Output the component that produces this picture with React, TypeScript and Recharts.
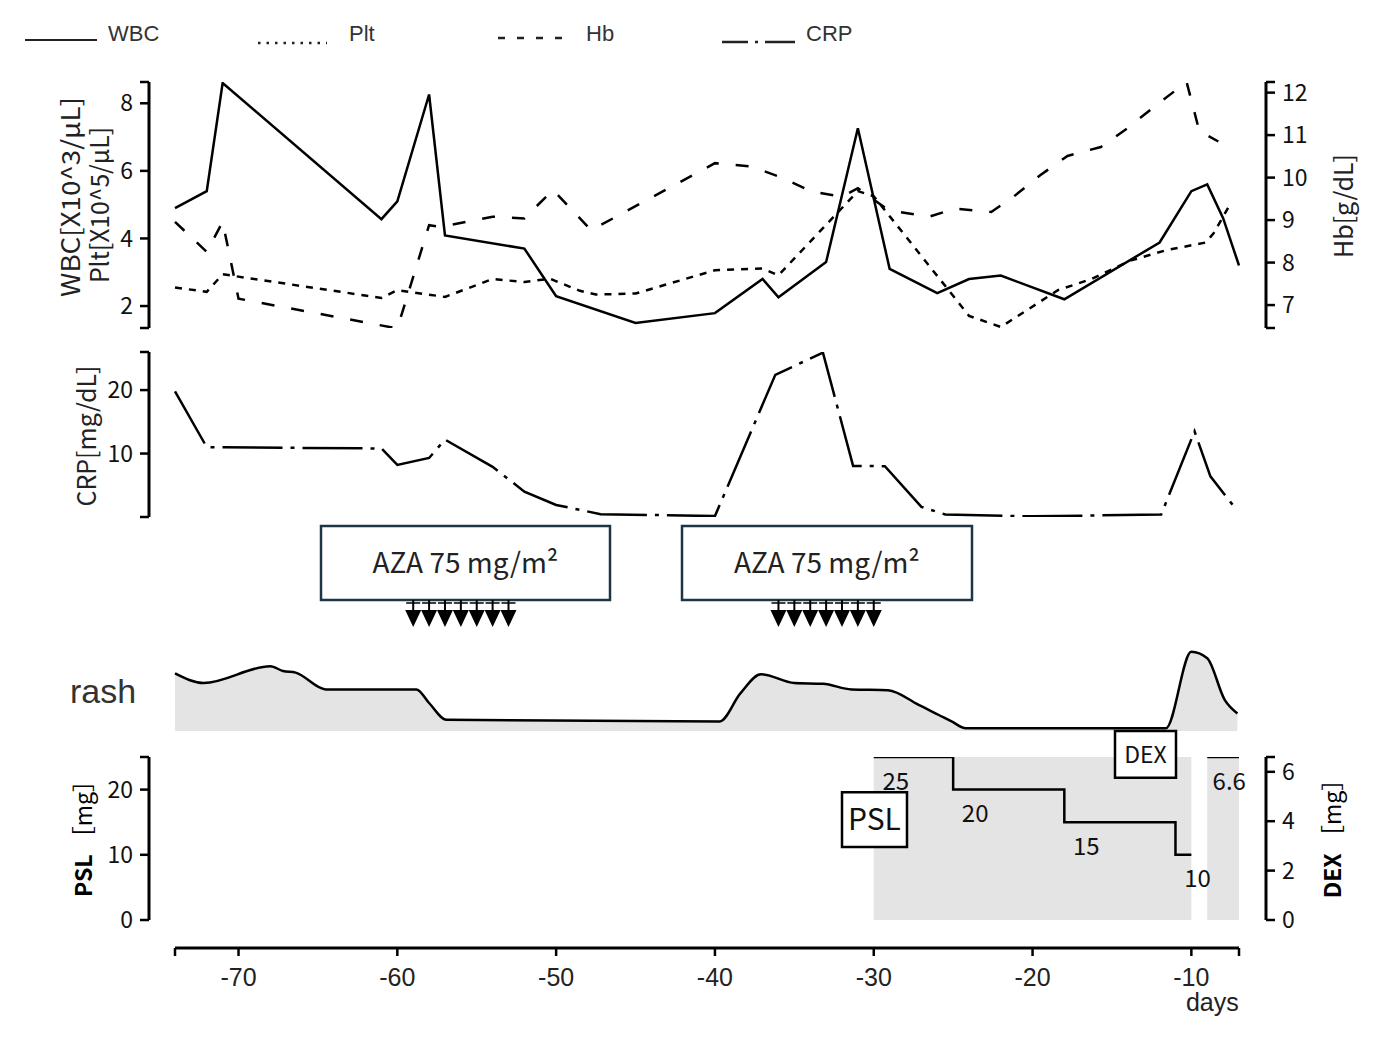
import React from 'react';
import {
  LineChart, Line, XAxis, YAxis, AreaChart, Area, ComposedChart, Scatter,
  ReferenceArea, Label, LabelList,
} from 'recharts';

const FONT_JP = '"Noto Sans CJK JP", "Noto Sans", sans-serif';
const FONT_AR = '"Liberation Sans", Arial, sans-serif';

// ---------------- data (days before reference day) ----------------
const wbcDays = [-74, -72, -71, -61, -60, -58, -57, -52, -50, -45, -40, -37, -36, -33, -31, -29, -26, -24, -22, -18, -12, -10, -9, -8, -7];
const wbcValues = [4.9, 5.4, 8.6, 4.57, 5.1, 8.26, 4.09, 3.7, 2.29, 1.5, 1.79, 2.8, 2.26, 3.3, 7.26, 3.1, 2.38, 2.8, 2.9, 2.2, 3.88, 5.4, 5.6, 4.6, 3.2];

const pltDays = [-74, -72, -71, -61, -60, -57, -54, -52, -50.4, -48.5, -47.5, -45, -40, -37, -36, -31, -30, -24, -22, -18.4, -16.3, -13.8, -11.6, -9.1, -8.6, -7.5];
const pltValues = [2.55, 2.42, 2.94, 2.24, 2.47, 2.27, 2.8, 2.71, 2.81, 2.45, 2.34, 2.37, 3.06, 3.11, 2.91, 5.4, 5.25, 1.71, 1.38, 2.47, 2.8, 3.35, 3.65, 3.88, 4.15, 5.06];

const hbDays = [-74, -72, -71, -70, -60, -58, -57.3, -54, -52, -50.2, -48.8, -47.8, -40, -37.7, -35.8, -33.9, -32, -31, -29.2, -28.4, -26.5, -24.9, -22.6, -21.2, -19.5, -17.8, -15.7, -14, -12.3, -10.3, -9.5, -8.3];
const hbValues = [8.96, 8.25, 8.96, 7.15, 6.45, 8.88, 8.84, 9.08, 9.04, 9.71, 9.16, 8.76, 10.34, 10.26, 10.0, 9.67, 9.55, 9.75, 9.27, 9.19, 9.08, 9.27, 9.19, 9.55, 10.06, 10.51, 10.72, 11.17, 11.68, 12.25, 11.1, 10.85];

const crpDays = [-74, -72, -61, -60, -58, -57, -54, -52, -50, -47.2, -40, -36.2, -33.2, -31.3, -29.3, -27, -25.5, -20, -11.9, -9.8, -8.8, -7.3];
const crpValues = [19.8, 11.0, 10.8, 8.2, 9.3, 12.2, 7.9, 4.0, 1.9, 0.45, 0.15, 22.4, 25.9, 8.05, 8.0, 1.6, 0.4, 0.1, 0.4, 13.5, 6.4, 1.6];

const rashDays = [-74, -72.2, -68, -67.2, -66.4, -64.5, -58.8, -58, -56.9, -39.7, -38.4, -37.1, -35, -33.2, -31.4, -29.1, -27.2, -25.9, -25.1, -24.2, -11.6, -10, -9, -7.9, -7.1];
const rashScores = [7.2, 6.0, 8.1, 7.5, 7.3, 5.2, 5.2, 3.5, 1.4, 1.2, 4.7, 7.1, 6.0, 5.9, 5.2, 5.1, 3.3, 2.0, 1.2, 0.35, 0.35, 9.9, 9.1, 3.9, 2.2];

const azaCourse1Days = [-59, -58, -57, -56, -55, -54, -53];
const azaCourse2Days = [-36, -35, -34, -33, -32, -31, -30];
const azaLabel = 'AZA 75 mg/m\u00B2';

const pslDays = [-30, -25, -18, -11, -10];
const pslDoses = [25, 20, 15, 10, 10];
const dexDays = [-9, -7];
const dexDoses = [6.6, 6.6];

const xTicks = [-70, -60, -50, -40, -30, -20, -10];
const cbcTicks = [2, 4, 6, 8];
const hbTicks = [7, 8, 9, 10, 11, 12];
const crpTicks = [10, 20];
const pslTicks = [0, 10, 20];
const dexTicks = [0, 2, 4, 6];
const seriesNames = ['WBC', 'Plt', 'Hb', 'CRP'];

// ---------------- tables built from the arrays ----------------
const zip = (d: number[], v: number[]) => d.map((day, i) => ({ day, v: v[i] }));
const wbcData = zip(wbcDays, wbcValues);
const pltData = zip(pltDays, pltValues);
const hbData = zip(hbDays, hbValues);
const crpData = zip(crpDays, crpValues);
const rashData = zip(rashDays, rashScores);
const pslData = zip(pslDays, pslDoses);
const dexData = zip(dexDays, dexDoses);
const pslMax = Math.max(...pslDoses);
const pslFillData = [
  { day: pslDays[0], v: pslMax },
  { day: pslDays[pslDays.length - 1], v: pslMax },
];

// ---------------- layout ----------------
const W = 1385;
const X_LEFT_PX = 175;
const X_RIGHT_PX = 1239;
const DAY_MIN = -74;
const DAY_MAX = -7;
const PX_PER_DAY = (X_RIGHT_PX - X_LEFT_PX) / (DAY_MAX - DAY_MIN);
const dayAt = (px: number) => DAY_MIN + (px - X_LEFT_PX) / PX_PER_DAY;
const SPINE_L = 149;
const SPINE_R = 1266;
const wideDomain: [number, number] = [dayAt(SPINE_L), dayAt(SPINE_R)];

const ARROW_LEVEL = 35;
const azaDoses = [...azaCourse1Days, ...azaCourse2Days].map((day) => ({ day, y: ARROW_LEVEL }));
const azaBoxes = [
  { x1: dayAt(321), x2: dayAt(610) },
  { x1: dayAt(682), x2: dayAt(972) },
];

const yAxisCommon = {
  axisLine: { stroke: '#000', strokeWidth: 3 },
  tickLine: { stroke: '#000', strokeWidth: 2.5 },
  tickSize: 9,
  tickMargin: 7,
  interval: 0 as const,
  allowDataOverflow: true,
  tick: { fontSize: 23, fill: '#111', fontFamily: FONT_JP },
};
const fmt = (list: number[]) => (v: number) => (list.includes(v) ? String(v) : '');

const GREY = '#e4e4e4';

function Arrow(props: any) {
  const { cx, cy } = props;
  return (
    <g>
      <line x1={cx - 7} y1={cy + 3} x2={cx + 7} y2={cy + 3} stroke="#000" strokeWidth={1.5} />
      <line x1={cx} y1={cy} x2={cx} y2={cy + 12} stroke="#000" strokeWidth={2} />
      <polygon points={`${cx - 8},${cy + 10} ${cx + 8},${cy + 10} ${cx},${cy + 27}`} fill="#000" />
    </g>
  );
}

function XTick(props: any) {
  const { x, y, payload } = props;
  const v = payload.value;
  if (!xTicks.includes(v)) return <g />;
  return (
    <g>
      <text x={x} y={y} dy="0.71em" textAnchor="middle" fontSize={25} fontFamily={FONT_AR} fill="#222">{v}</text>
      {v === xTicks[xTicks.length - 1] && (
        <text x={x + 21} y={y + 25} dy="0.71em" textAnchor="middle" fontSize={25} fontFamily={FONT_AR} fill="#222">days</text>
      )}
    </g>
  );
}

const stepLabel = (last: number) => (props: any) => {
  const { x, y, value, index } = props;
  if (index >= last) return <g />;
  return (
    <text x={x + 22} y={y + 22} textAnchor="middle" dominantBaseline="central" fontSize={24} fontFamily={FONT_JP} fill="#111">
      {value}
    </text>
  );
};

const legendStyles = [
  { x1: 25, x2: 97, y: 40, tx: 108, dash: undefined as string | undefined, w: 2 },
  { x1: 258, x2: 327, y: 43, tx: 349, dash: '2.5 6', w: 2.5 },
  { x1: 498, x2: 565, y: 38, tx: 586, dash: '7 12', w: 2.5 },
  { x1: 722, x2: 798, y: 42, tx: 806, dash: '26 7 3 7 30', w: 2.5 },
];

function Overlay() {
  return (
    <svg width={W} height={1039} style={{ position: 'absolute', left: 0, top: 0, pointerEvents: 'none' }}>
      {seriesNames.map((name, i) => {
        const s = legendStyles[i];
        return (
          <g key={name}>
            <line x1={s.x1} y1={s.y} x2={s.x2} y2={s.y} stroke="#222" strokeWidth={s.w} strokeDasharray={s.dash} />
            <text x={s.tx} y={41} fontSize={22} fontFamily={FONT_AR} fill="#333">{name}</text>
          </g>
        );
      })}
      <text transform="translate(69,197) rotate(-90)" textAnchor="middle" dominantBaseline="central" fontSize={25} fontFamily={FONT_JP} fill="#222" textLength={200} lengthAdjust="spacingAndGlyphs">WBC[X10^3/μL]</text>
      <text transform="translate(98,205) rotate(-90)" textAnchor="middle" dominantBaseline="central" fontSize={25} fontFamily={FONT_JP} fill="#222" textLength={156} lengthAdjust="spacingAndGlyphs">Plt[X10^5/μL]</text>
      <text transform="translate(1342,206) rotate(-90)" textAnchor="middle" dominantBaseline="central" fontSize={25} fontFamily={FONT_JP} fill="#222">Hb[g/dL]</text>
      <text transform="translate(85,436) rotate(-90)" textAnchor="middle" dominantBaseline="central" fontSize={25} fontFamily={FONT_JP} fill="#222">CRP[mg/dL]</text>
      <text x={70} y={703} fontSize={34} fontFamily={FONT_AR} fill="#333">rash</text>
      <text transform="translate(82,833) rotate(-90)" textAnchor="middle" dominantBaseline="central" fontSize={23} fontFamily={FONT_JP} fill="#000">
        <tspan fontWeight={700}>PSL</tspan>
        <tspan> ［mg］</tspan>
      </text>
      <text transform="translate(1331,833) rotate(-90)" textAnchor="middle" dominantBaseline="central" fontSize={23} fontFamily={FONT_JP} fill="#000">
        <tspan fontWeight={700}>DEX</tspan>
        <tspan> ［mg］</tspan>
      </text>
    </svg>
  );
}

const abs = (top: number): React.CSSProperties => ({ position: 'absolute', left: 0, top });

export default function App() {
  return (
    <div style={{ position: 'fixed', left: 0, top: 0, width: W, height: 1039, background: '#fff', overflow: 'hidden' }}>
      {/* Blood counts */}
      <div style={abs(0)}>
        <LineChart width={W} height={340} margin={{ top: 82, right: 59, bottom: 12, left: 89 }}>
          <XAxis type="number" dataKey="day" domain={wideDomain} hide allowDataOverflow />
          <YAxis yAxisId="l" width={60} domain={[1.35, 8.63]} ticks={[1.35, ...cbcTicks, 8.63]} tickFormatter={fmt(cbcTicks)} {...yAxisCommon} />
          <YAxis yAxisId="r" orientation="right" width={60} domain={[6.46, 12.25]} ticks={[6.46, ...hbTicks, 12.25]} tickFormatter={fmt(hbTicks)} {...yAxisCommon} />
          <Line yAxisId="l" data={pltData} dataKey="v" type="linear" stroke="#000" strokeWidth={2.5} strokeDasharray="7 7" dot={false} isAnimationActive={false} />
          <Line yAxisId="r" data={hbData} dataKey="v" type="linear" stroke="#000" strokeWidth={2.5} strokeDasharray="13 17" dot={false} isAnimationActive={false} />
          <Line yAxisId="l" data={wbcData} dataKey="v" type="linear" stroke="#000" strokeWidth={2.5} dot={false} isAnimationActive={false} />
        </LineChart>
      </div>

      {/* CRP */}
      <div style={abs(340)}>
        <LineChart width={W} height={190} margin={{ top: 12, right: 119, bottom: 13, left: 89 }}>
          <XAxis type="number" dataKey="day" domain={wideDomain} hide allowDataOverflow />
          <YAxis width={60} domain={[0, 26]} ticks={[0, ...crpTicks, 26]} tickFormatter={fmt(crpTicks)} {...yAxisCommon} />
          <Line data={crpData} dataKey="v" type="linear" stroke="#000" strokeWidth={2.5} strokeDasharray="60 8 4 8" dot={false} isAnimationActive={false} />
        </LineChart>
      </div>

      {/* AZA courses */}
      <div style={abs(520)}>
        <ComposedChart width={W} height={115} margin={{ top: 0, right: 119, bottom: 0, left: 149 }}>
          <XAxis type="number" dataKey="day" domain={wideDomain} hide allowDataOverflow />
          <YAxis hide dataKey="y" domain={[0, 115]} />
          {azaBoxes.map((b, i) => (
            <ReferenceArea key={i} x1={b.x1} x2={b.x2} y1={ARROW_LEVEL} y2={109} fill="#fff" fillOpacity={1} stroke="#1e3545" strokeWidth={2.5} ifOverflow="visible">
              <Label value={azaLabel} position="center" fontSize={28} fontFamily={FONT_JP} fill="#222" />
            </ReferenceArea>
          ))}
          <Scatter data={azaDoses} dataKey="y" shape={Arrow} isAnimationActive={false} />
        </ComposedChart>
      </div>

      {/* Rash */}
      <div style={abs(645)}>
        <AreaChart width={W} height={90} margin={{ top: 6, right: 119, bottom: 4, left: 149 }} data={rashData}>
          <XAxis type="number" dataKey="day" domain={wideDomain} hide allowDataOverflow />
          <YAxis hide domain={[0, 10]} />
          <Area type="monotone" dataKey="v" stroke="#000" strokeWidth={2.5} fill={GREY} fillOpacity={1} isAnimationActive={false} />
        </AreaChart>
      </div>

      {/* PSL / DEX */}
      <div style={abs(720)}>
        <ComposedChart width={W} height={220} margin={{ top: 37, right: 59, bottom: 20, left: 89 }}>
          <XAxis type="number" dataKey="day" domain={wideDomain} hide allowDataOverflow />
          <YAxis yAxisId="psl" width={60} domain={[0, 25]} ticks={[...pslTicks, 25]} tickFormatter={fmt(pslTicks)} {...yAxisCommon} />
          <YAxis yAxisId="dex" orientation="right" width={60} domain={[0, 6.6]} ticks={[...dexTicks, 6.6]} tickFormatter={fmt(dexTicks)} {...yAxisCommon} />
          <Area yAxisId="psl" data={pslFillData} dataKey="v" type="linear" stroke="none" fill={GREY} fillOpacity={1} isAnimationActive={false} />
          <Area yAxisId="dex" data={dexData} dataKey="v" type="linear" stroke="#000" strokeWidth={2.5} fill={GREY} fillOpacity={1} isAnimationActive={false}>
            <LabelList dataKey="v" content={stepLabel(1)} />
          </Area>
          <Line yAxisId="psl" data={pslData} dataKey="v" type="stepAfter" stroke="#000" strokeWidth={2.5} dot={false} isAnimationActive={false}>
            <LabelList dataKey="v" content={stepLabel(pslDoses.length - 1)} />
          </Line>
          <ReferenceArea yAxisId="psl" x1={dayAt(842)} x2={dayAt(907)} y1={11.2} y2={19.6} fill="#fff" fillOpacity={1} stroke="#000" strokeWidth={2.5} ifOverflow="visible">
            <Label value="PSL" position="center" fontSize={30} fontFamily={FONT_JP} fill="#111" />
          </ReferenceArea>
          <ReferenceArea yAxisId="psl" x1={dayAt(1115)} x2={dayAt(1176)} y1={21.8} y2={29} fill="#fff" fillOpacity={1} stroke="#000" strokeWidth={2.5} ifOverflow="visible">
            <Label value="DEX" position="center" fontSize={23} fontFamily={FONT_JP} fill="#111" />
          </ReferenceArea>
        </ComposedChart>
      </div>

      {/* Time axis */}
      <div style={abs(900)}>
        <LineChart width={W} height={135} margin={{ top: 10, right: W - X_RIGHT_PX, bottom: 27, left: X_LEFT_PX }} data={rashData}>
          <XAxis type="number" dataKey="day" domain={[DAY_MIN, DAY_MAX]} ticks={[DAY_MIN, ...xTicks, DAY_MAX]} interval={0} height={60}
            tickSize={8} tickMargin={12} axisLine={{ stroke: '#000', strokeWidth: 3 }} tickLine={{ stroke: '#000', strokeWidth: 2.5 }} tick={<XTick />} allowDataOverflow />
          <YAxis hide />
        </LineChart>
      </div>

      <Overlay />
    </div>
  );
}
